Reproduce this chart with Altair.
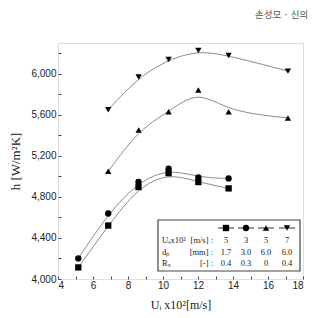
import altair as alt
import pandas as pd

# Heat transfer coefficient h versus superficial velocity U_i for four bed conditions
series = ["A", "B", "C", "D"]
shapes = ["square", "circle", "triangle-up", "triangle-down"]

u_low = [5.16, 6.87, 8.60, 10.32, 12.02, 13.75]
h_square = [4113, 4521, 4896, 5032, 4945, 4883]
h_circle = [4201, 4638, 4945, 5075, 4990, 4980]

u_high = [6.87, 8.61, 10.32, 12.02, 13.75, 17.14]
h_up = [5049, 5453, 5631, 5841, 5631, 5570]
h_down = [5650, 5968, 6139, 6226, 6178, 6026]

# Legend table columns
uo_vals = ["5", "3", "5", "7"]
dp_vals = ["1.7", "3.0", "6.0", "6.0"]
rs_vals = ["0.4", "0.3", "0", "0.4"]
row_names = ["U\u2092x10\u00b2", "d\u209a", "R\u209b"]
row_units = ["[m/s] :", "[mm] :", "[-] :"]

x_ticks = list(range(4, 19))
y_ticks = list(range(4000, 6201, 200))

rows = []
for s, xs, ys in [("A", u_low, h_square), ("B", u_low, h_circle),
                  ("C", u_high, h_up), ("D", u_high, h_down)]:
    for x, y in zip(xs, ys):
        rows.append({"series": s, "u": x, "h": y})
df = pd.DataFrame(rows)

W, H = 245, 236
SERIF = "Liberation Serif"
SANS = "Liberation Sans"

x_scale = alt.Scale(domain=[4, 18], nice=False, zero=False)
y_scale = alt.Scale(domain=[4000, 6300], nice=False, zero=False)

x_axis = alt.Axis(
    values=x_ticks,
    labelExpr="datum.value % 2 === 0 ? datum.value : ''",
    title="U\u1d62 x10\u00b2[m/s]",
    titleFont=SERIF, titleFontSize=12, titleFontWeight="normal", titleColor="#222",
    titlePadding=9,
    labelFont=SANS, labelFontSize=10, labelColor="#222", labelPadding=4,
    tickSize=alt.ExprRef("-3"), tickColor="#444", domain=False, grid=False,
)
y_axis = alt.Axis(
    values=y_ticks,
    labelExpr="datum.value % 400 === 0 ? format(datum.value, ',') : ''",
    title="h [W/m\u00b2K]",
    titleFont=SERIF, titleFontSize=13, titleFontWeight="normal", titleColor="#222",
    titlePadding=8,
    labelFont=SANS, labelFontSize=10, labelColor="#222", labelPadding=5,
    tickSize=alt.ExprRef("-3"), tickColor="#444", domain=False, grid=False,
)

base = alt.Chart(df).encode(
    x=alt.X("u:Q", scale=x_scale, axis=x_axis),
    y=alt.Y("h:Q", scale=y_scale, axis=y_axis),
)

curves = base.mark_line(interpolate="basis", color="#8a8a8a", strokeWidth=1).encode(
    detail="series:N"
)
points = base.mark_point(filled=True, color="black", opacity=1, size=40).encode(
    shape=alt.Shape("series:N", scale=alt.Scale(domain=series, range=shapes), legend=None)
)

layers = [curves, points]

# Legend box drawn inside the plot area
box = alt.Chart(pd.DataFrame({"k": [0]})).mark_rect(
    fill="white", stroke="#444", strokeWidth=1.2
).encode(x=alt.value(100), x2=alt.value(242), y=alt.value(177), y2=alt.value(228))
layers.append(box)

col_x = [168, 188, 208, 229]
for i, s in enumerate(series):
    seg = alt.Chart(pd.DataFrame({"k": [0]})).mark_rule(color="#333", strokeWidth=1).encode(
        x=alt.value(col_x[i] - 8), x2=alt.value(col_x[i] + 8), y=alt.value(185)
    )
    mk = alt.Chart(pd.DataFrame({"series": [s]})).mark_point(
        filled=True, color="black", opacity=1, size=40
    ).encode(
        x=alt.value(col_x[i]), y=alt.value(185),
        shape=alt.Shape("series:N", scale=alt.Scale(domain=series, range=shapes), legend=None),
    )
    layers += [seg, mk]

row_y = [197, 208.5, 220]
for r, vals in enumerate([uo_vals, dp_vals, rs_vals]):
    name = alt.Chart(pd.DataFrame({"t": [row_names[r]]})).mark_text(
        font=SERIF, fontSize=8.5, align="left", baseline="middle", color="#222"
    ).encode(x=alt.value(104), y=alt.value(row_y[r]), text="t:N")
    unit = alt.Chart(pd.DataFrame({"t": [row_units[r]]})).mark_text(
        font=SERIF, fontSize=8.5, align="right", baseline="middle", color="#222"
    ).encode(x=alt.value(155), y=alt.value(row_y[r]), text="t:N")
    layers += [name, unit]
    for i, v in enumerate(vals):
        val = alt.Chart(pd.DataFrame({"t": [v]})).mark_text(
            font=SERIF, fontSize=8.5, align="center", baseline="middle", color="#222"
        ).encode(x=alt.value(col_x[i]), y=alt.value(row_y[r]), text="t:N")
        layers.append(val)

# Running header above the plot
header = alt.Chart(pd.DataFrame({"t": ["손성모 · 신의"]})).mark_text(
    font="Noto Sans CJK KR", fontSize=9.5, align="left", baseline="middle", color="#555"
).encode(x=alt.value(197), y=alt.value(-28), text="t:N")
layers.append(header)

chart = alt.layer(*layers).properties(
    width=W, height=H,
    autosize=alt.AutoSizeParams(type="none"),
    padding={"left": 58, "top": 43, "right": 14, "bottom": 39},
).configure_view(stroke="#555", strokeWidth=1.3).configure(background="white")

chart.save("out.html", embed_options={"renderer": "svg", "actions": False})
